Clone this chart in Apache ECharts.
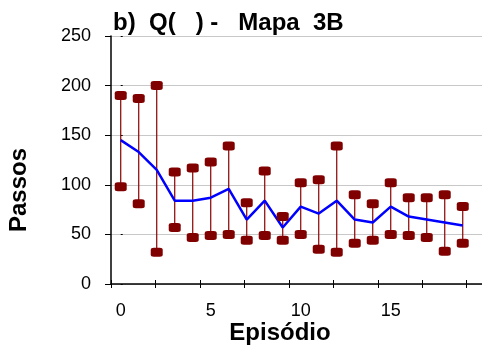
<!DOCTYPE html>
<html>
<head>
<meta charset="utf-8">
<script src="https://cdn.jsdelivr.net/npm/echarts@6/dist/echarts.min.js"></script>
<style>
html,body{margin:0;padding:0;background:#fff;}
#chart{width:482px;height:346px;}
</style>
</head>
<body>
<div id="chart"></div>
<script>
var episodes = [0,1,2,3,4,5,6,7,8,9,10,11,12,13,14,15,16,17,18,19];
var upper = [190,187,200,113,117,123,139,82,114,68,102,105,139,90,81,102,87,87,90,78];
var lower = [98,81,32,57,47,49,50,44,49,44,50,35,32,41,44,50,49,47,33,41];
var meanSteps = [145,133,115,84,84,87,96,65,84,57,78,71,84,65,62,78,68,65,62,59];
var xLabelValues = [0,5,10,15];
var xTickValues = [-0.54,1.93,4.4,6.87,9.34,11.81,14.28,16.75,19.22];
var yTickLabels = [0,50,100,150,200,250];

var FONT = '"Liberation Sans", Arial, sans-serif';
var chart = echarts.init(document.getElementById('chart'), null, {renderer:'canvas'});

var errData = episodes.map(function(e,i){ return [e, lower[i], upper[i]]; });

var option = {
  animation:false,
  backgroundColor:'#fff',
  title:{
    text:'b)  Q(   ) -   Mapa  3B',
    left:108, top:6,
    textStyle:{fontFamily:FONT, fontWeight:'bold', fontSize:24, color:'#000'}
  },
  grid:{left:111, right:0, top:36, bottom:62, containLabel:false, outerBoundsMode:'none'},
  xAxis:[{
    type:'value', min:-0.54, max:20.07, position:'bottom',
    axisLine:{show:true, onZero:false, lineStyle:{color:'#000', width:1.5}},
    axisTick:{show:true, inside:false, length:4, customValues:xTickValues, lineStyle:{color:'#000', width:1}},
    axisLabel:{customValues:xLabelValues, fontFamily:FONT, fontSize:18, color:'#000', margin:18},
    splitLine:{show:false},
    name:'Episódio', nameLocation:'middle', nameGap:37, nameMoveOverlap:false,
    nameTextStyle:{fontFamily:FONT, fontWeight:'bold', fontSize:24, color:'#000', padding:[0,33,0,0]}
  },{
    type:'value', min:-0.54, max:20.07, position:'bottom',
    axisLine:{show:false},
    axisTick:{show:true, inside:true, length:4, customValues:xTickValues, lineStyle:{color:'#000', width:1}},
    axisLabel:{show:false},
    splitLine:{show:false}
  }],
  yAxis:[{
    type:'value', min:0, max:250, interval:50, position:'left',
    axisLine:{show:true, onZero:false, lineStyle:{color:'#000', width:1.5}},
    axisTick:{show:true, inside:false, length:6, lineStyle:{color:'#000', width:1}},
    axisLabel:{fontFamily:FONT, fontSize:18, color:'#000', margin:20,
      formatter:function(v){ return yTickLabels.indexOf(v) >= 0 ? String(v) : ''; }},
    splitLine:{show:true, lineStyle:{color:'#c8c8c8', width:1}},
    name:'Passos', nameLocation:'middle', nameGap:80, nameMoveOverlap:false,
    nameTextStyle:{fontFamily:FONT, fontWeight:'bold', fontSize:24, color:'#000', padding:[0,60,0,0]}
  },{
    type:'value', min:0, max:250, interval:50, position:'left',
    axisLine:{show:false},
    axisTick:{show:true, inside:true, length:2, lineStyle:{color:'#000', width:1}},
    axisLabel:{show:false},
    splitLine:{show:false}
  }],
  series:[{
    type:'custom',
    xAxisIndex:0, yAxisIndex:0,
    data:errData,
    renderItem:function(params, api){
      var p1 = api.coord([api.value(0), api.value(1)]);
      var p2 = api.coord([api.value(0), api.value(2)]);
      return {type:'line', shape:{x1:p1[0], y1:p1[1], x2:p2[0], y2:p2[1]},
        style:{stroke:'#8b0000', lineWidth:1.2}};
    },
    z:2
  },{
    type:'line',
    data:episodes.map(function(e,i){ return [e, meanSteps[i]]; }),
    showSymbol:false, symbol:'none',
    lineStyle:{color:'#0000ff', width:2.5},
    z:3
  },{
    type:'scatter',
    data:episodes.map(function(e,i){ return [e, upper[i]]; }),
    symbol:'roundRect', symbolSize:[12,9],
    itemStyle:{color:'#800000', opacity:1},
    z:4
  },{
    type:'scatter',
    data:episodes.map(function(e,i){ return [e, lower[i]]; }),
    symbol:'roundRect', symbolSize:[12,9],
    itemStyle:{color:'#800000', opacity:1},
    z:4
  }]
};
chart.setOption(option);
</script>
</body>
</html>
